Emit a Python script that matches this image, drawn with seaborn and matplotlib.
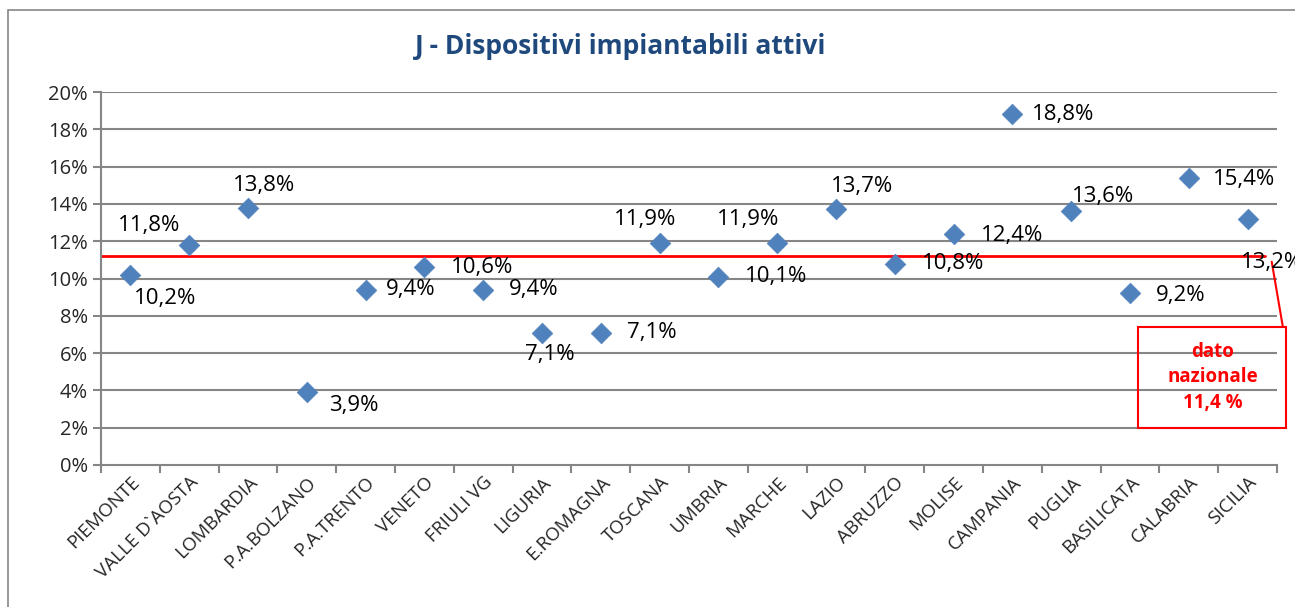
import matplotlib
matplotlib.use('Agg')
import matplotlib.pyplot as plt
import seaborn as sns
import pandas as pd
from matplotlib.patches import Rectangle
from matplotlib.ticker import PercentFormatter, FixedLocator

# Regions and share of active implantable devices (%)
regions = ['PIEMONTE', 'VALLE D`AOSTA', 'LOMBARDIA', 'P.A.BOLZANO', 'P.A.TRENTO',
           'VENETO', 'FRIULI VG', 'LIGURIA', 'E.ROMAGNA', 'TOSCANA',
           'UMBRIA', 'MARCHE', 'LAZIO', 'ABRUZZO', 'MOLISE',
           'CAMPANIA', 'PUGLIA', 'BASILICATA', 'CALABRIA', 'SICILIA']
values = [10.2, 11.8, 13.8, 3.9, 9.4,
          10.6, 9.4, 7.1, 7.1, 11.9,
          10.1, 11.9, 13.7, 10.8, 12.4,
          18.8, 13.6, 9.2, 15.4, 13.2]
national_line = 11.2
national_text = 'dato\nnazionale\n11,4 %'

# Label offsets in pixels (dx, dy), relative to the marker
label_offsets = [(35, -24), (-40, 19), (16, 22), (47, -13), (45, 0),
                 (58, 0), (50, 0), (8, -22), (51, 0), (-14, 24),
                 (58, 0), (-29, 24), (26, 23), (58, 0), (59, -2),
                 (51, 0), (32, 15), (51, -2), (55, -2), (24, -44)]

df = pd.DataFrame({'region': regions, 'value': values})

sns.set_style('white')
plt.rcParams['font.family'] = ['Open Sans', 'DejaVu Sans']

fig = plt.figure(figsize=(12.95, 6.07), dpi=100)
ax = fig.add_axes([101 / 1295, 1 - 465 / 607, 1176 / 1295, 373 / 607])

# Frame around the whole chart
fig.patches.append(Rectangle((8 / 1295, -0.1), 1.2, 1 - 10 / 607 + 0.1,
                             transform=fig.transFigure, fill=False,
                             edgecolor='#868686', linewidth=1.2))

grid_col = '#868686'
ax.set_ylim(0, 20)
ax.set_xlim(-0.5, len(regions) - 0.5)
ax.set_yticks(range(0, 21, 2))
ax.yaxis.set_major_formatter(PercentFormatter(100, decimals=0))
for y in range(2, 21, 2):
    ax.axhline(y, color=grid_col, linewidth=1.5, zorder=1)

ax.axhline(national_line, xmin=0, xmax=(1265 - 101) / 1176, color='#FF0000',
           linewidth=2, zorder=2)

sns.scatterplot(data=df, x='region', y='value', marker='D', s=110,
                color='#4F81BD', edgecolor='#4F81BD', linewidth=0.5,
                ax=ax, zorder=3, clip_on=False)

for i, (v, (dx, dy)) in enumerate(zip(values, label_offsets)):
    ax.annotate(f'{v:.1f}%'.replace('.', ','), (i, v), xytext=(dx * 0.72, dy * 0.72),
                textcoords='offset points', ha='center', va='center',
                fontsize=16, color='black', annotation_clip=False)

# National value callout
ax.plot([19.41, 19.6], [10.9, 7.4], color='#FF0000', linewidth=1.5, clip_on=False)
ax.add_patch(Rectangle((17.14, 2.0), 2.52, 5.4, fill=False, edgecolor='#FF0000',
                       linewidth=1.5, clip_on=False, zorder=4))
ax.text(18.4, 4.7, national_text, ha='center', va='center', color='#FF0000',
        fontsize=13.5, fontweight='bold', linespacing=1.35)

fig.text(621 / 1295, 1 - 47 / 607, 'J - Dispositivi impiantabili attivi',
         ha='center', va='center', fontsize=19, fontweight='bold', color='#1F497D')

ax.set_xlabel('')
ax.set_ylabel('')
for side in ['top', 'right']:
    ax.spines[side].set_visible(False)
for side in ['left', 'bottom']:
    ax.spines[side].set_color(grid_col)
    ax.spines[side].set_linewidth(1.5)

ax.xaxis.set_minor_locator(FixedLocator([i - 0.5 for i in range(len(regions) + 1)]))
ax.tick_params(axis='x', which='major', length=0, pad=6)
ax.tick_params(axis='x', which='minor', length=6, width=1.5, color=grid_col, bottom=True)
ax.tick_params(axis='y', length=6, width=1.5, color=grid_col, left=True, labelsize=14.5)
plt.setp(ax.get_xticklabels(), rotation=45, ha='right', rotation_mode='anchor',
         fontsize=13.5)

fig.savefig('out.png', dpi=100)
